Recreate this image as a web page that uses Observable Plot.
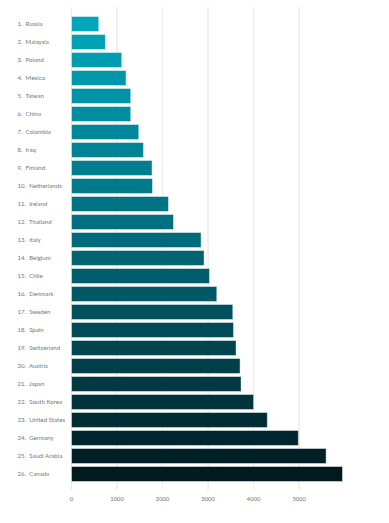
<!DOCTYPE html>
<html>
<head>
<meta charset="utf-8">
<script src="https://cdn.jsdelivr.net/npm/d3@7"></script>
<script src="https://cdn.jsdelivr.net/npm/@observablehq/plot@0.6"></script>
<style>
  html, body { margin: 0; padding: 0; background: #fff; }
  #chart svg { display: block; }
</style>
</head>
<body>
<div id="chart"></div>
<script>
const countries = ["Russia", "Malaysia", "Poland", "Mexico", "Taiwan", "China", "Colombia", "Iraq", "Finland", "Netherlands", "Ireland", "Thailand", "Italy", "Belgium", "Chile", "Denmark", "Sweden", "Spain", "Switzerland", "Austria", "Japan", "South Korea", "United States", "Germany", "Saudi Arabia", "Canada"];
const values = [620, 767, 1125, 1220, 1323, 1323, 1499, 1602, 1791, 1800, 2152, 2262, 2868, 2934, 3053, 3213, 3565, 3580, 3637, 3725, 3747, 4022, 4323, 5005, 5615, 5975];
const xTicks = [0, 1000, 2000, 3000, 4000, 5000];

const data = countries.map((c, i) => ({
  rank: i + 1,
  label: `${i + 1}.\u00a0\u00a0${c}`,
  value: values[i]
}));

const chart = Plot.plot({
  width: 389,
  height: 523,
  marginLeft: 71,
  marginRight: 46,
  marginTop: 7,
  marginBottom: 33,
  style: { fontFamily: "Lato, sans-serif", background: "#fff" },
  x: { domain: [0, d3.max(values)], ticks: xTicks, grid: true, label: null },
  y: { domain: data.map(d => d.label), paddingInner: 0.12, paddingOuter: 0.33, label: null, axis: null },
  color: { type: "linear", domain: [1, 13, 26], range: ["#00a6ba", "#006a7a", "#001a1f"], interpolate: "rgb" },
  marks: [
    Plot.gridX(xTicks, { stroke: "#ececec", strokeOpacity: 1 }),
    Plot.barX(data, { x: "value", y: "label", fill: "rank", stroke: "#ffffff", strokeOpacity: 0.45, strokeWidth: 1, inset: 0.5 }),
    Plot.axisX(xTicks, { tickSize: 0, tickPadding: 6, fontSize: 5.8, fill: "#707070", tickFormat: d => String(d), label: null }),
    Plot.text(data, { x: 0, y: "label", text: "label", dx: -54, textAnchor: "start", fontSize: 6.1, fill: "#777" })
  ]
});
document.getElementById("chart").append(chart);
</script>
</body>
</html>
